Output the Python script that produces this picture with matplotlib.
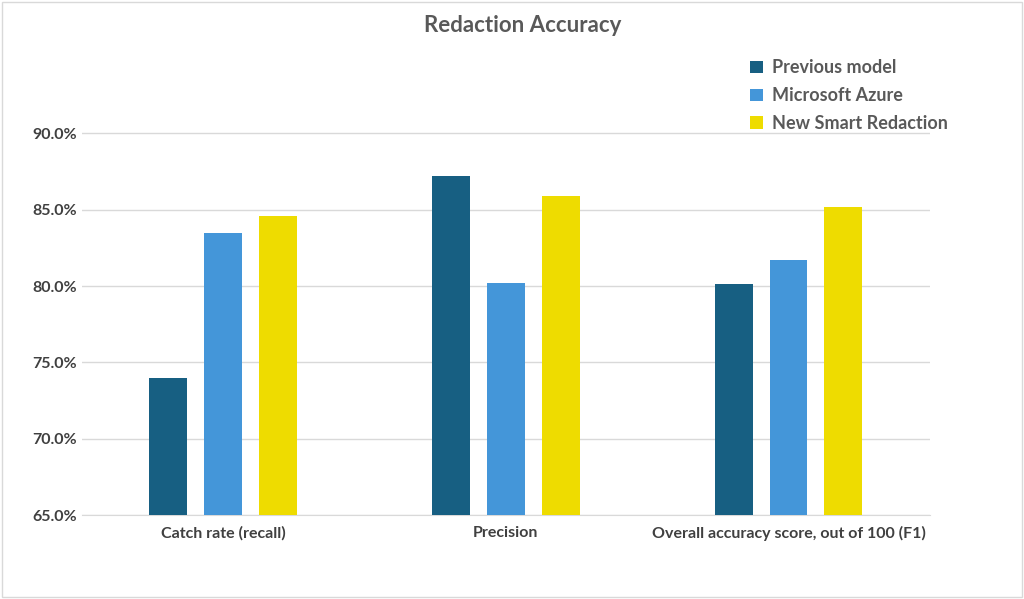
import numpy as np
import matplotlib; matplotlib.use("Agg")
import matplotlib.pyplot as plt
from matplotlib.patches import Rectangle

categories = ["Catch rate (recall)", "Precision", "Overall accuracy score, out of 100 (F1)"]
series = ["Previous model", "Microsoft Azure", "New Smart Redaction"]
previous = [74.0, 87.2, 80.1]
azure = [83.5, 80.2, 81.7]
smart = [84.6, 85.9, 85.2]
colors = ["#175F82", "#4496D9", "#EEDC00"]

plt.rcParams["font.family"] = ["Lato", "DejaVu Sans"]

fig = plt.figure(figsize=(10.24, 5.99), dpi=100)
fig.patches.append(Rectangle((0.002, 0.003), 0.996, 0.994, transform=fig.transFigure,
                             fill=False, edgecolor="#D9D9D9", lw=1))
ax = fig.add_axes([0.08, 0.14, 0.828, 0.765])

x = np.arange(len(categories))
w = 0.134
off = 0.194
for i, (vals, name) in enumerate(zip([previous, azure, smart], series)):
    ax.bar(x + (i - 1) * off, [v - 65 for v in vals], w, bottom=65,
           color=colors[i], label=name, zorder=3)

ax.set_xlim(-0.5, 2.5)
ax.set_ylim(65, 95)
ax.set_yticks([65, 70, 75, 80, 85, 90])
ax.set_yticklabels([f"{t:.1f}%" for t in [65, 70, 75, 80, 85, 90]])
ax.set_xticks(x)
ax.set_xticklabels(categories)
ax.grid(axis="y", color="#D9D9D9", lw=1, zorder=0)
for s in ["top", "right", "left"]:
    ax.spines[s].set_visible(False)
ax.spines["bottom"].set_color("#D9D9D9")
ax.tick_params(length=0, labelsize=11.5, colors="#404040")
for lab in ax.get_xticklabels() + ax.get_yticklabels():
    lab.set_fontweight("bold")
ax.tick_params(axis="x", pad=8)

fig.suptitle("Redaction Accuracy", x=0.51, y=0.975, fontsize=16, fontweight="bold",
             color="#595959")
leg = ax.legend(loc="upper right", bbox_to_anchor=(1.04, 1.03), frameon=False,
                prop={"size": 13, "weight": "bold"}, handlelength=0.7,
                handleheight=0.7, labelspacing=0.6, handletextpad=0.5)
for t in leg.get_texts():
    t.set_color("#595959")

fig.savefig("out.png", dpi=100)
